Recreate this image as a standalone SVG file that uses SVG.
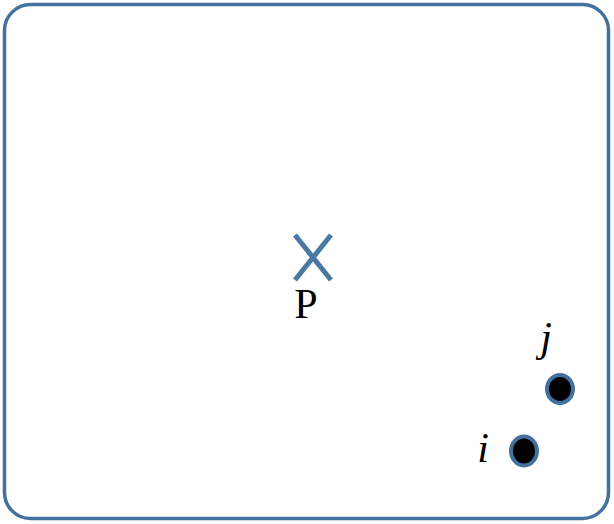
<svg xmlns="http://www.w3.org/2000/svg" width="614" height="524" viewBox="0 0 614 524">
<style>
.lbl{font-family:"Liberation Serif","Times New Roman",serif;font-size:42px;fill:#000}
.it{font-style:italic}
.pt{fill:#000;stroke:#41719c;stroke-width:4}
</style>
<rect x="0" y="0" width="614" height="524" fill="#fff"/>
<rect id="frame" x="4.5" y="4.5" width="604" height="514" rx="26" ry="26" fill="#fff" stroke="#41719c" stroke-width="3.5"/>
<g id="P">
<path d="M295 235 L331 280 M331 235 L295 280" stroke="#4a78a3" stroke-width="5" fill="none"/>
<text class="lbl" x="306" y="318" text-anchor="middle">P</text>
</g>
<g id="j">
<ellipse class="pt" cx="560" cy="389" rx="13" ry="14"/>
<text class="lbl it" x="546" y="351" text-anchor="middle">j</text>
</g>
<g id="i">
<ellipse class="pt" cx="524" cy="451" rx="13" ry="14.5"/>
<text class="lbl it" x="483" y="462" text-anchor="middle">i</text>
</g>
</svg>
